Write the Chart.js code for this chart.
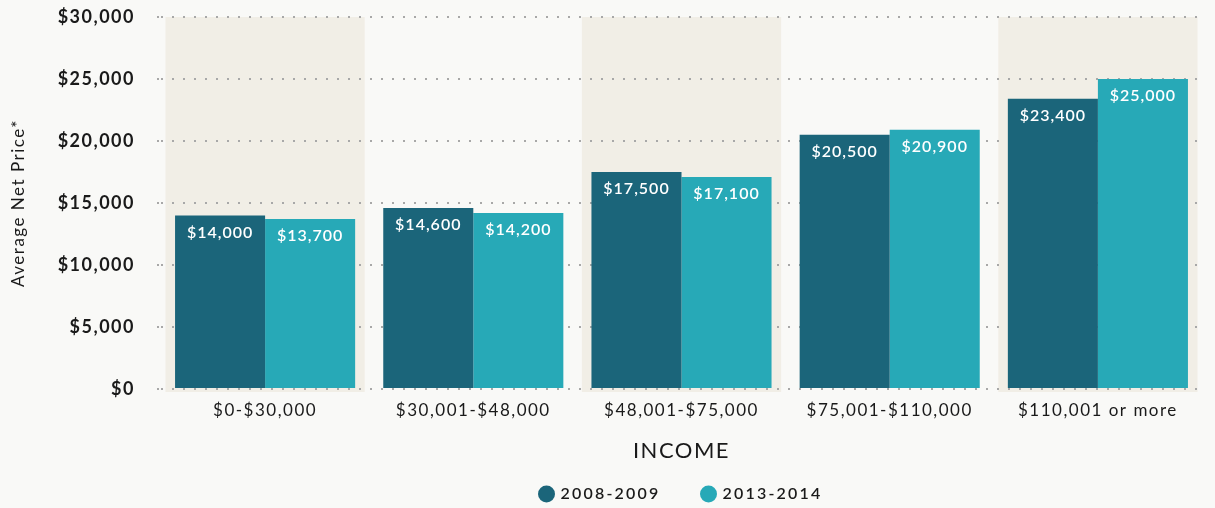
<!DOCTYPE html>
<html>
<head>
<meta charset="utf-8">
<script src="https://cdn.jsdelivr.net/npm/chart.js@4"></script>
<style>
  html, body { margin: 0; padding: 0; background: #f9f9f7; }
  #wrap { width: 1215px; height: 508px; }
</style>
</head>
<body>
<div id="wrap"><canvas id="netChart"></canvas></div>
<script>
const incomeBands = ['$0-$30,000', '$30,001-$48,000', '$48,001-$75,000', '$75,001-$110,000', '$110,001 or more'];
const price0809 = [14000, 14600, 17500, 20500, 23400];
const price1314 = [13700, 14200, 17100, 20900, 25000];
const yTicks = [0, 5000, 10000, 15000, 20000, 25000, 30000];
const shadedCols = [0, 2, 4];

const money = v => '$' + v.toLocaleString('en-US');
const FONT = 'Lato, "Open Sans", sans-serif';

// letter spacing for all canvas text, a bit wider in the legend
const spacing = {
  id: 'spacing',
  afterInit(chart) {
    const lg = chart.legend;
    ['fit', 'draw'].forEach(fn => {
      const orig = lg[fn];
      lg[fn] = function () {
        const c = this.ctx;
        const prev = c.letterSpacing;
        c.letterSpacing = '2.2px';
        orig.apply(this, arguments);
        c.letterSpacing = prev;
      };
    });
  },
  beforeUpdate(chart) { chart.ctx.letterSpacing = '1.5px'; },
  beforeDraw(chart) { chart.ctx.letterSpacing = '1.5px'; }
};

// shaded background columns behind every other category
const bands = {
  id: 'bands',
  beforeDraw(chart) {
    const {ctx, chartArea, scales: {x}} = chart;
    const w = (x.getPixelForValue(1) - x.getPixelForValue(0)) * 0.957;
    ctx.save();
    ctx.fillStyle = '#f1eee6';
    shadedCols.forEach(i => {
      const cx = x.getPixelForValue(i);
      ctx.fillRect(cx - w / 2, chartArea.top, w, chartArea.bottom - chartArea.top + 3);
    });
    ctx.restore();
  }
};

// value labels inside the top of every bar
const barLabels = {
  id: 'barLabels',
  afterDatasetsDraw(chart) {
    const ctx = chart.ctx;
    ctx.save();
    ctx.letterSpacing = '1px';
    ctx.font = '600 16px ' + FONT;
    ctx.fillStyle = '#ffffff';
    ctx.textAlign = 'center';
    ctx.textBaseline = 'middle';
    chart.data.datasets.forEach((ds, di) => {
      chart.getDatasetMeta(di).data.forEach((bar, i) => {
        ctx.fillText(money(ds.data[i]), bar.x, bar.y + 17);
      });
    });
    ctx.restore();
  }
};

new Chart(document.getElementById('netChart'), {
  type: 'bar',
  data: {
    labels: incomeBands,
    datasets: [
      { label: '2008-2009', data: price0809, backgroundColor: '#1b657a' },
      { label: '2013-2014', data: price1314, backgroundColor: '#27a9b7' }
    ]
  },
  options: {
    responsive: true,
    maintainAspectRatio: false,
    animation: false,
    categoryPercentage: 0.865,
    barPercentage: 1,
    layout: { padding: { top: 17, right: 13, bottom: -4, left: 0 } },
    plugins: {
      legend: {
        position: 'bottom',
        fullSize: false,
        labels: {
          usePointStyle: true,
          pointStyle: 'circle',
          boxWidth: 12,
          boxHeight: 12,
          padding: 42,
          color: '#1a1a1a',
          font: { family: FONT, size: 16, weight: '600' }
        }
      },
      tooltip: { enabled: false }
    },
    scales: {
      x: {
        grid: { display: false },
        border: { display: false },
        ticks: { padding: 3, color: '#1a1a1a', font: { family: FONT, size: 17 } },
        title: { display: true, text: 'INCOME', color: '#1a1a1a', padding: { top: 0, bottom: -20 }, font: { family: FONT, size: 22 } },
        afterFit(s) { s.height = 55; s.paddingLeft = 0; s.paddingRight = 0; }
      },
      y: {
        min: 0,
        max: 30000,
        afterBuildTicks(s) { s.ticks = yTicks.map(v => ({ value: v })); },
        grid: { color: '#a8a8a8', lineWidth: 2, tickLength: 4, drawTicks: true, tickBorderDash: [2, 9] },
        border: { display: false, dash: [2, 9] },
        ticks: {
          padding: 22,
          color: '#1a1a1a',
          font: { family: FONT, size: 18, weight: 'bold' },
          callback: v => money(v)
        },
        title: { display: true, text: 'Average Net Price*', color: '#1a1a1a', padding: 8, font: { family: FONT, size: 17 } },
        afterFit(s) { s.width = 161; s.paddingTop = 0; s.paddingBottom = 0; }
      }
    }
  },
  plugins: [spacing, bands, barLabels]
});
</script>
</body>
</html>
